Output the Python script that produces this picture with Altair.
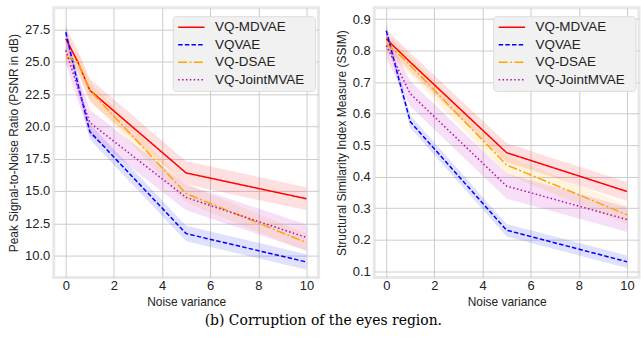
import altair as alt
import pandas as pd

models = ["VQ-MDVAE", "VQVAE", "VQ-DSAE", "VQ-JointMVAE"]
colors = ["#ff0000", "#0000ff", "#ffa500", "#bf00bf"]
dashes = [[1, 0], [4.5, 2.2], [9, 2.4, 2, 2.4], [1.5, 2.4]]
noise = [0, 0.5, 1, 5, 10]

psnr = {
    "VQ-MDVAE": [26.8, 25.0, 22.8, 16.4, 14.4],
    "VQVAE": [27.3, 23.3, 19.6, 11.7, 9.5],
    "VQ-DSAE": [25.4, 25.0, 22.8, 14.8, 11.0],
    "VQ-JointMVAE": [25.9, 23.0, 20.3, 14.5, 11.4],
}
psnr_err = {"VQ-MDVAE": 0.9, "VQVAE": 0.6, "VQ-DSAE": 0.7, "VQ-JointMVAE": 1.0}

ssim = {
    "VQ-MDVAE": [0.837, 0.80, 0.763, 0.476, 0.353],
    "VQVAE": [0.863, 0.716, 0.574, 0.230, 0.130],
    "VQ-DSAE": [0.821, 0.79, 0.753, 0.437, 0.279],
    "VQ-JointMVAE": [0.816, 0.74, 0.663, 0.370, 0.264],
}
ssim_err = {"VQ-MDVAE": 0.03, "VQVAE": 0.02, "VQ-DSAE": 0.03, "VQ-JointMVAE": 0.04}


def frame(vals, errs):
    rows = []
    for m in models:
        for x, v in zip(noise, vals[m]):
            rows.append({"model": m, "band": m, "x": x, "y": v,
                         "lo": v - errs[m], "hi": v + errs[m]})
    return pd.DataFrame(rows)


FONT = "Liberation Sans"
W, H = 266, 271

color_scale = alt.Scale(domain=models, range=colors)
dash_scale = alt.Scale(domain=models, range=dashes)

# legend table built from the model list (row positions in pixels)
LEG_TOP, LEG_STEP = 19.5, 17.6
legend_df = pd.DataFrame({"model": models,
                          "ly": [LEG_TOP + LEG_STEP * i for i in range(len(models))]})
box_df = pd.DataFrame({"k": [0]})


def legend_layers():
    box = alt.Chart(box_df).mark_rect(
        fill="#f1f1f1", stroke="#dcdcdc", strokeWidth=1, cornerRadius=3
    ).encode(x=alt.value(W - 146), x2=alt.value(W - 3), y=alt.value(9), y2=alt.value(84))
    sym = alt.Chart(legend_df).mark_rule(strokeWidth=1.5).encode(
        x=alt.value(W - 141), x2=alt.value(W - 114.5),
        y=alt.Y("ly:Q", scale=None, axis=None),
        color=alt.Color("model:N", scale=color_scale, legend=None),
        strokeDash=alt.StrokeDash("model:N", scale=dash_scale, legend=None),
    )
    txt = alt.Chart(legend_df).mark_text(
        align="left", baseline="middle", font=FONT, fontSize=13.5, color="#222222"
    ).encode(x=alt.value(W - 104), y=alt.Y("ly:Q", scale=None, axis=None),
             text="model:N")
    return [box, sym, txt]


def panel(df, title, ydom, yvals):
    xenc = alt.X("x:Q", title="Noise variance",
                 scale=alt.Scale(domain=[-0.5, 10.5], nice=False, zero=False),
                 axis=alt.Axis(values=[0, 2, 4, 6, 8, 10], format="d", tickCount=20,
                               labelPadding=2))
    ysc = alt.Scale(domain=ydom, nice=False, zero=False)
    yaxis = alt.Axis(values=yvals, format=".1f", labelOverlap=False, tickCount=30)
    band = alt.Chart(df).mark_area(opacity=0.12).encode(
        x=xenc,
        y=alt.Y("lo:Q", scale=ysc, title=title, axis=yaxis),
        y2="hi:Q",
        fill=alt.Fill("band:N", scale=color_scale, legend=None),
        detail="band:N",
    )
    line = alt.Chart(df).mark_line(strokeWidth=1.5).encode(
        x=xenc,
        y=alt.Y("y:Q", scale=ysc, title=title, axis=yaxis),
        color=alt.Color("model:N", scale=color_scale, legend=None),
        strokeDash=alt.StrokeDash("model:N", scale=dash_scale, legend=None),
    )
    return alt.layer(band, line, *legend_layers()).properties(width=W, height=H)


left = panel(frame(psnr, psnr_err), "Peak Signal-to-Noise Ratio (PSNR in dB)",
             [8.3, 29.2], [10, 12.5, 15, 17.5, 20, 22.5, 25, 27.5])
right = panel(frame(ssim, ssim_err), "Structural Similarity Index Measure (SSIM)",
              [0.08, 0.936], [0.1, 0.2, 0.3, 0.4, 0.5, 0.6, 0.7, 0.8, 0.9])

chart = alt.hconcat(left, right, spacing=13).properties(
    title=alt.TitleParams("(b) Corruption of the eyes region.", orient="bottom",
                          anchor="middle", font="DejaVu Serif", fontSize=14,
                          fontWeight="normal", color="#000000", offset=5),
    padding={"left": 6, "top": 5, "right": 0, "bottom": 6},
).configure_view(
    stroke="#e8e8e8", strokeWidth=3
).configure_axis(
    grid=True, gridColor="#cccccc", gridWidth=1, domain=False, ticks=False,
    labelFont=FONT, labelFontSize=13, labelColor="#222222", labelPadding=4,
    titleFont=FONT, titleFontSize=12, titleFontWeight="normal", titleColor="#222222",
    titlePadding=4,
)

chart.save("out.html", embed_options={"renderer": "svg", "actions": False})
